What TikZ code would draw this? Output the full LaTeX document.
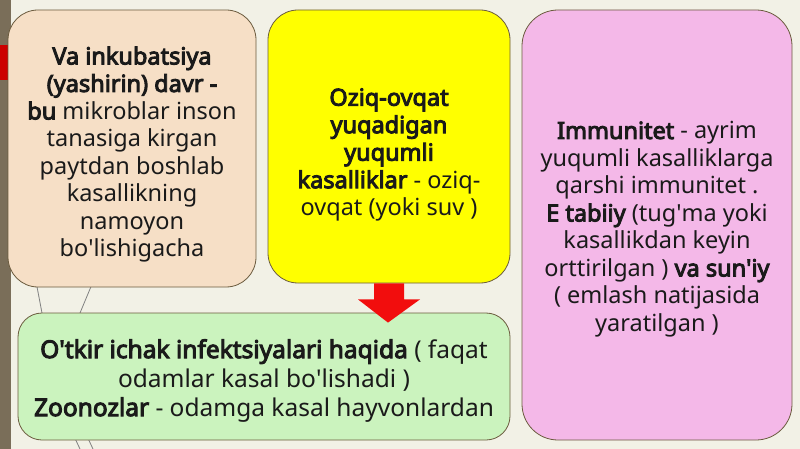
\documentclass[tikz,border=0pt]{standalone}
\usepackage{fontspec}
\setmainfont{Noto Sans}[BoldFont={Noto Sans}, BoldFeatures={FakeBold=4}]
\usetikzlibrary{calc}
\definecolor{boxline}{HTML}{6B5B3E}
\definecolor{textdark}{HTML}{1A1A1A}
\definecolor{peach}{HTML}{F6DFC6}
\definecolor{lemon}{HTML}{FFFF00}
\definecolor{pinkish}{HTML}{F4B8E8}
\definecolor{mint}{HTML}{CBF3BE}
\definecolor{paper}{HTML}{F2F1E6}
\definecolor{strip}{HTML}{7A6E59}
\definecolor{arrowred}{HTML}{F20D0D}
\newcommand{\apos}{\textquotesingle}
\tikzset{
  infobox/.style={draw=boxline, line width=0.8pt, align=center, text=textdark,
    inner sep=0pt, font=\fontsize{23.5}{27.5}\selectfont},
}
\begin{document}
\begin{tikzpicture}[x=1pt, y=-1pt]
\useasboundingbox (0,0) rectangle (800,449);
    \fill[paper] (0,0) rectangle (800,449);
    \fill[strip] (0,0) rectangle (11,449);
    \fill[red!80!black] (0,45) rectangle (8,80);
    % branches behind the boxes
    \draw[gray, line width=0.8pt] (100,265) -- (80,313);
    \draw[gray, line width=0.8pt] (30,250) -- (42,313);
    \draw[gray, line width=0.8pt] (72,432) -- (80,449);
    \draw[gray, line width=0.8pt] (85,432) -- (93,449);
    \node[infobox, fill=peach, rounded corners=30pt, minimum width=248pt, minimum height=277pt] (incub) at (132,148.5)
      {\rule{0pt}{30pt}\textbf{Va inkubatsiya}\\ \textbf{(yashirin) davr -}\\ \textbf{bu} mikroblar inson\\ tanasiga kirgan\\ paytdan boshlab\\ kasallikning\\ namoyon\\ bo\apos lishigacha};
    \node[infobox, fill=lemon, rounded corners=30pt, minimum width=242pt, minimum height=273pt] (oziq) at (389,146.5)
      {\rule{0pt}{34pt}\textbf{Oziq-ovqat}\\ \textbf{yuqadigan}\\ \textbf{yuqumli}\\ \textbf{kasalliklar} - oziq-\\ ovqat (yoki suv )};
    \node[infobox, fill=pinkish, rounded corners=36pt, minimum width=270pt, minimum height=430pt] (immun) at (657,225)
      {\rule{0pt}{26pt}\textbf{Immunitet} - ayrim\\ yuqumli kasalliklarga\\ qarshi immunitet .\\ \textbf{E tabiiy} (tug\apos ma yoki\\ kasallikdan keyin\\ orttirilgan ) \textbf{va sun\apos iy}\\ ( emlash natijasida\\ yaratilgan )};
    \node[infobox, fill=mint, rounded corners=24pt, minimum width=492pt, minimum height=127pt,
      font=\fontsize{24.5}{29}\selectfont] (otkir) at (264,376.5)
      {\rule{0pt}{27pt}\textbf{O\apos tkir ichak infektsiyalari haqida} ( faqat\\ odamlar kasal bo\apos lishadi )\\ \textbf{Zoonozlar} - odamga kasal hayvonlardan};
    % block arrow from oziq down to otkir
    \fill[arrowred] ($(oziq.south)+(-15,0)$) -- ($(oziq.south)+(-15,16)$) -- ($(oziq.south)+(-31,16)$)
      -- ($(otkir.north)+(124,10)$) -- ($(oziq.south)+(31,16)$) -- ($(oziq.south)+(15,16)$)
      -- ($(oziq.south)+(15,0)$) -- cycle;
\end{tikzpicture}
\end{document}
